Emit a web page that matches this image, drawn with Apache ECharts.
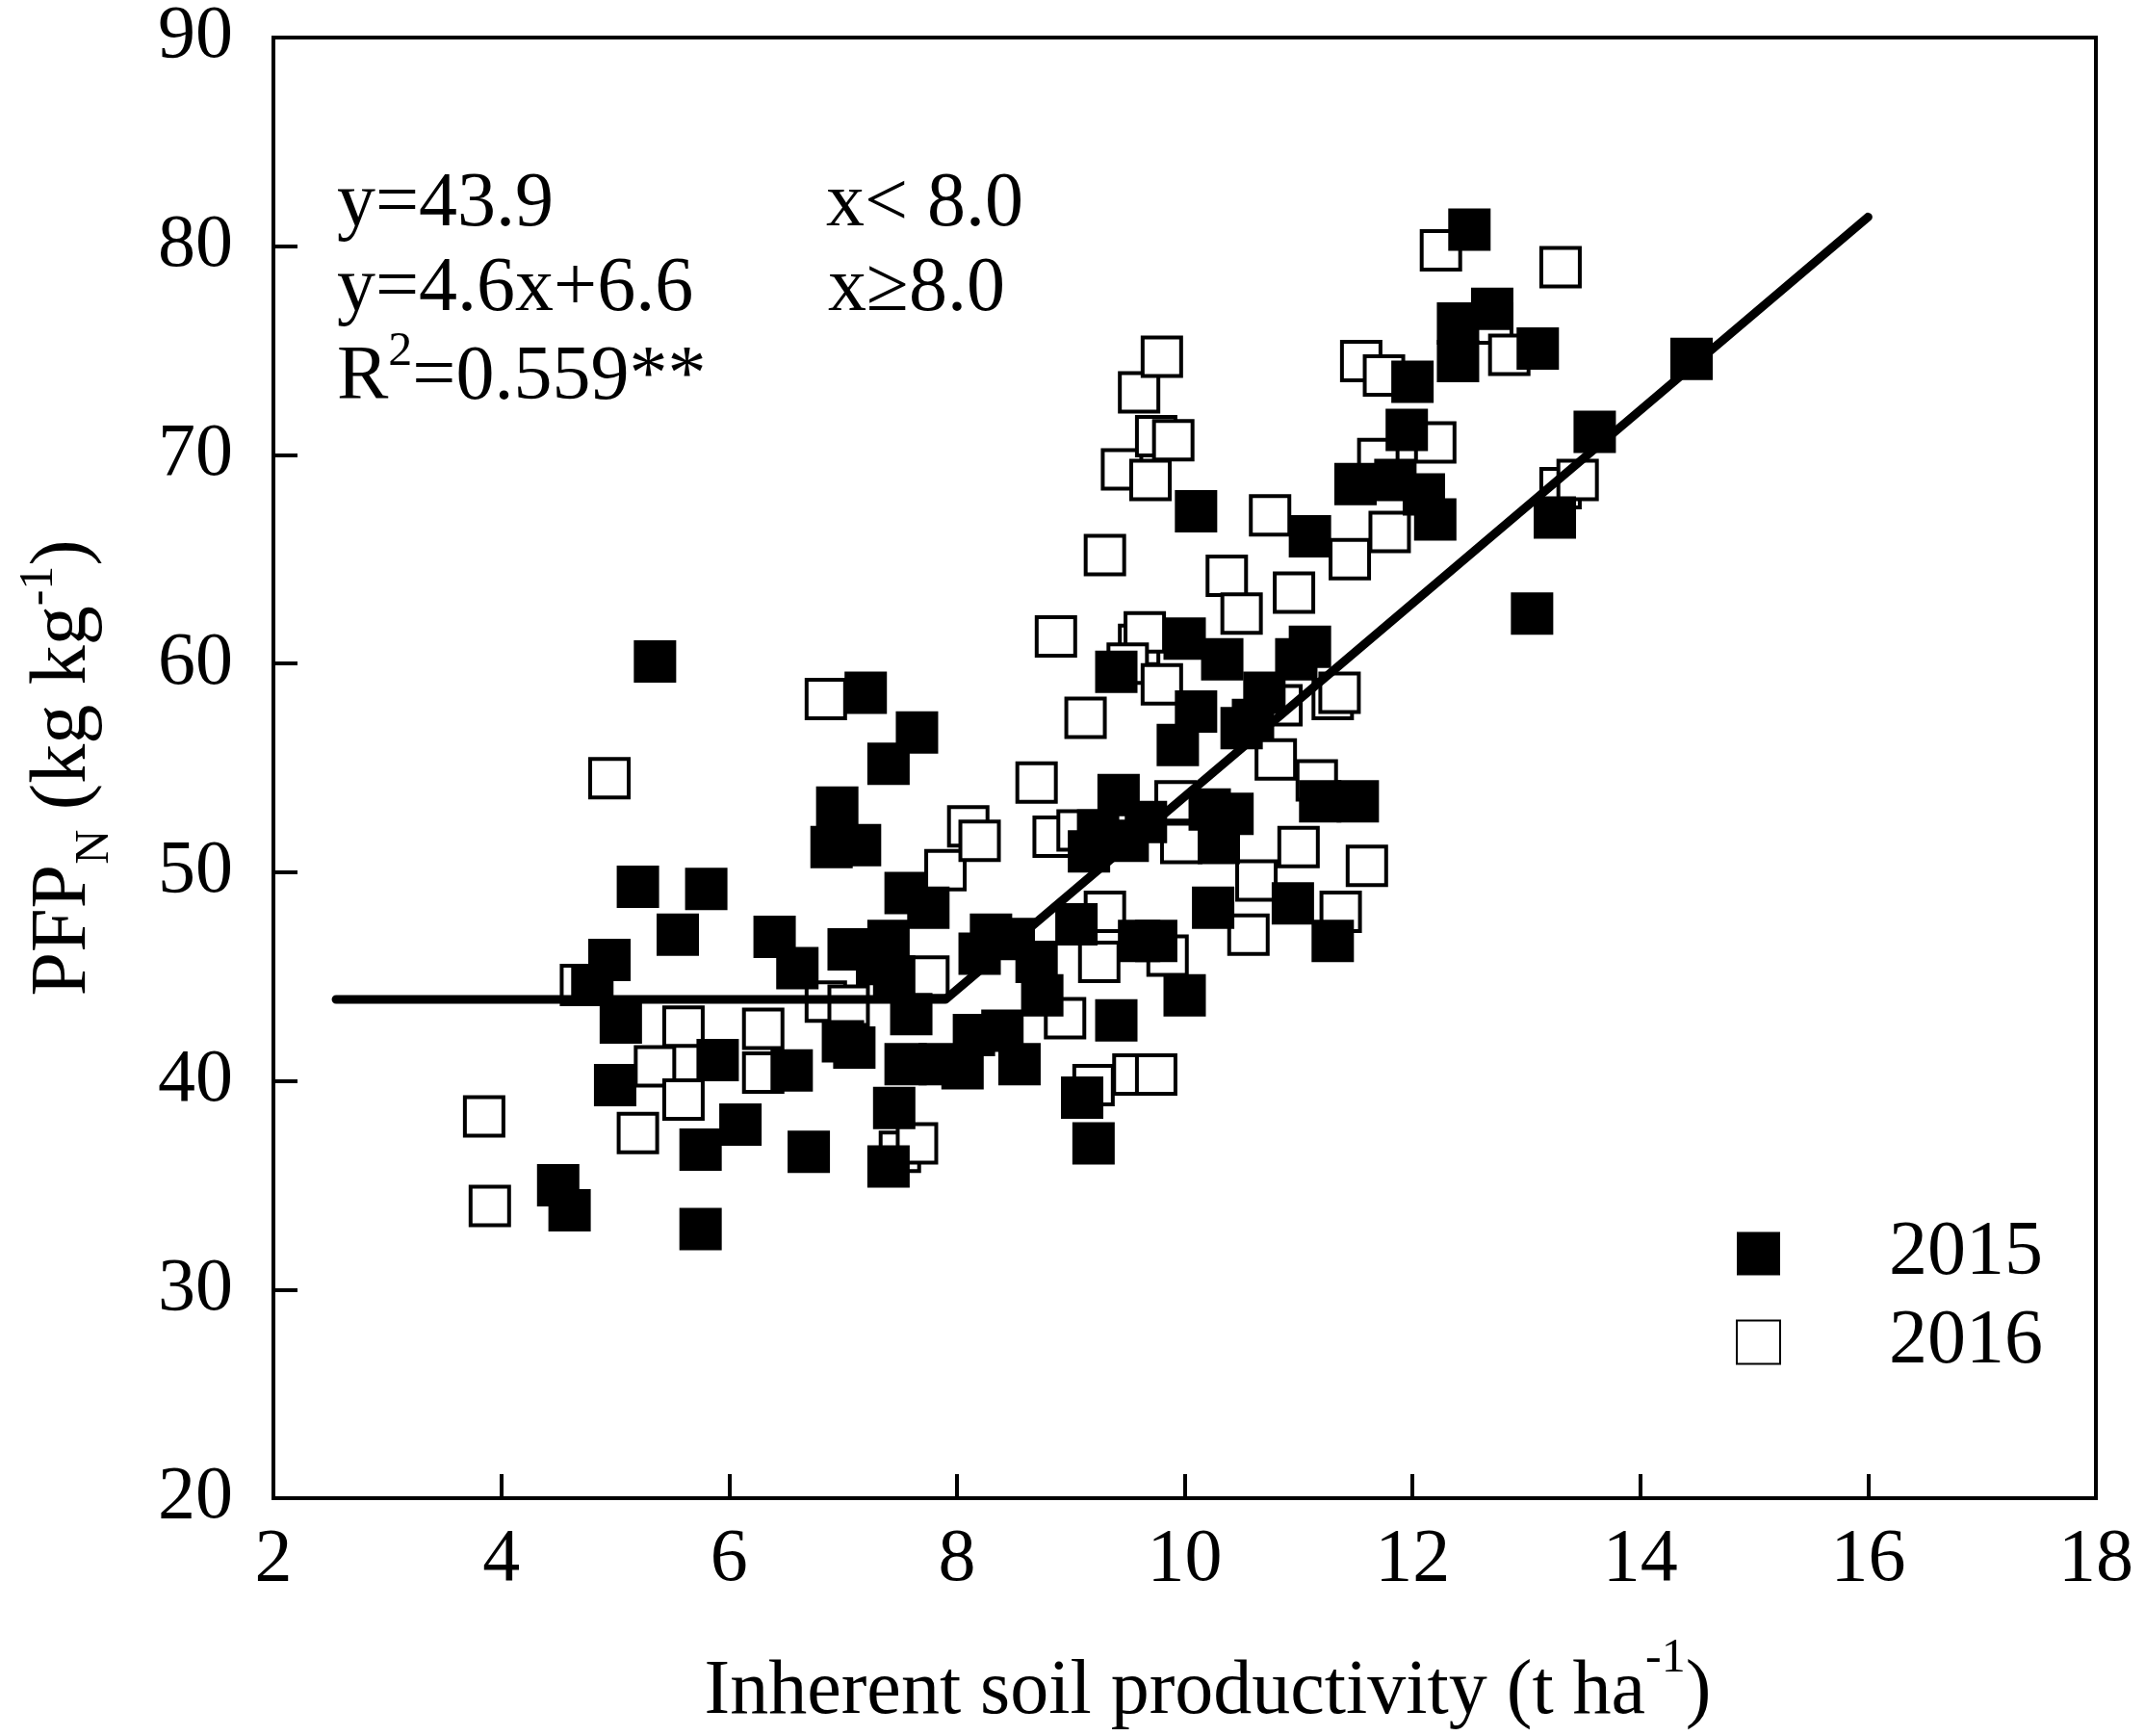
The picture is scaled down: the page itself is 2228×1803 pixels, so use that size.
<!DOCTYPE html>
<html>
<head>
<meta charset="utf-8">
<script src="https://cdn.jsdelivr.net/npm/echarts@6/dist/echarts.min.js"></script>
<style>
  html, body { margin: 0; padding: 0; background: #fff; }
  #chart { width: 2228px; height: 1803px; }
</style>
</head>
<body>
<div id="chart"></div>
<script>
// values
const xTicks = { min: 2, max: 18, step: 2 };
const yTicks = { min: 20, max: 90, step: 10 };

const points2015 = [
    [5.35, 60.1], [5.2, 49.3], [5.55, 47.0], [5.8, 49.2], [4.95, 45.8], [4.8, 44.6],
    [5.05, 42.8], [5.0, 39.8], [4.5, 35.0], [4.6, 33.8], [5.75, 32.9], [5.75, 36.7],
    [5.9, 41.0], [6.1, 37.9], [6.4, 46.9], [6.6, 45.4], [6.55, 40.5], [6.7, 36.6],
    [6.95, 53.1], [6.9, 51.2], [7.15, 51.3], [7.2, 58.6], [7.05, 46.3], [7.0, 41.9],
    [7.1, 41.6], [7.4, 55.2], [7.65, 56.7], [7.55, 49.0], [7.75, 48.3], [7.4, 46.7],
    [7.3, 45.6], [7.45, 45.0], [7.6, 43.2], [7.55, 40.8], [7.45, 38.7], [7.4, 35.9],
    [7.85, 40.8], [8.05, 40.6], [8.15, 42.2], [8.3, 47.0], [8.2, 46.1], [8.5, 46.8],
    [8.4, 42.4], [8.55, 40.8], [8.7, 45.7], [8.75, 44.1], [9.05, 47.5], [9.1, 39.2],
    [9.2, 37.0], [9.16, 51.0], [9.24, 52.0], [9.4, 59.6], [9.42, 53.7], [9.66, 52.4],
    [9.5, 51.5], [9.4, 42.9], [9.6, 46.7], [9.75, 46.7], [9.94, 56.1], [10.0, 61.2],
    [10.0, 44.1], [10.1, 67.3], [10.1, 57.7], [10.25, 48.3], [10.33, 60.2], [10.22, 53.0],
    [10.42, 52.8], [10.3, 51.4], [10.5, 56.9], [10.6, 57.3], [10.7, 58.6], [10.95, 48.5],
    [11.1, 66.1], [11.1, 60.8], [10.98, 60.2], [11.19, 53.4], [11.52, 53.4], [11.3, 46.7],
    [11.5, 68.6], [11.85, 68.8], [12.0, 73.5], [11.95, 71.2], [12.1, 68.1], [12.2, 66.9],
    [12.4, 74.5], [12.4, 76.3], [12.5, 80.8], [12.7, 77.0], [13.1, 75.1], [13.05, 62.4],
    [13.25, 67.0], [13.6, 71.1], [14.45, 74.6]
];

const points2016 = [
    [3.85, 38.3], [3.9, 34.0], [4.7, 44.6], [4.95, 54.5], [5.2, 37.5], [5.35, 40.7],
    [5.6, 39.1], [5.6, 42.6], [6.3, 42.5], [6.3, 40.4], [6.85, 58.3], [6.85, 43.8],
    [7.05, 43.6], [7.5, 36.6], [7.65, 37.0], [7.75, 45.0], [7.9, 50.1], [8.1, 52.2],
    [8.2, 51.5], [8.7, 54.3], [8.87, 61.3], [8.85, 51.7], [8.95, 43.0], [9.06, 52.0],
    [9.13, 57.4], [9.3, 65.2], [9.2, 39.8], [9.3, 48.1], [9.25, 45.7], [9.45, 69.3],
    [9.6, 73.0], [9.8, 74.7], [9.7, 68.8], [9.75, 70.9], [9.9, 70.7], [9.6, 60.9],
    [9.65, 61.5], [9.5, 60.0], [9.8, 59.0], [9.55, 40.3], [9.75, 40.3], [9.85, 46.0],
    [9.92, 53.4], [9.97, 51.4], [10.37, 64.2], [10.5, 62.4], [10.56, 47.0], [10.63, 49.6],
    [10.75, 67.1], [10.8, 55.4], [10.85, 58.0], [10.96, 63.4], [11.0, 51.2], [11.16, 54.4],
    [11.3, 58.3], [11.36, 58.6], [11.45, 65.0], [11.37, 48.1], [11.55, 74.5], [11.7, 69.8],
    [11.8, 66.3], [11.75, 73.8], [11.6, 50.3], [12.2, 70.6], [12.25, 79.8], [12.7, 76.3],
    [12.85, 74.8], [13.3, 79.0], [13.3, 68.4], [13.45, 68.8]
];

// piecewise fit as drawn: flat part, then the sloped part
const fitLine = [[2.55, 43.9], [7.9, 43.9], [16.0, 81.4]];

const seriesNames = ['2015', '2016'];
const fitText = ['y=43.9', 'y=4.6x+6.6', '{a|R}{s|2}{a|=0.559**}'];
const rangeText = ['x< 8.0', 'x\u22658.0'];

const FONT = '"Liberation Serif", "Times New Roman", serif';
const FS = 80;      // texts, names, legend
const TICK_FS = 78; // tick labels

const chart = echarts.init(document.getElementById('chart'));

const axisCommon = {
    axisLine: { show: true, lineStyle: { color: '#000', width: 4 } },
    axisTick: { show: true, inside: true, length: 25, lineStyle: { color: '#000', width: 4 } },
    splitLine: { show: false },
    axisLabel: { color: '#000', fontFamily: FONT, fontSize: TICK_FS, showMinLabel: true, showMaxLabel: true },
    nameTextStyle: { color: '#000', fontFamily: FONT, fontSize: FS },
};

const textLine = (txt, x, top, rich) => ({
    type: 'text',
    left: x,
    top: top,
    style: {
        text: txt,
        fill: '#000',
        font: FS + 'px ' + FONT,
        rich: rich,
    },
});

const supRich = {
    a: { fontFamily: FONT, fontSize: FS, lineHeight: 96, verticalAlign: 'bottom' },
    s: { fontFamily: FONT, fontSize: 50, lineHeight: 96, verticalAlign: 'top', padding: [4, 0, 0, 0] },
};

const option = {
    backgroundColor: '#fff',
    animation: false,
    grid: {
        left: 277, right: 51, top: 36, bottom: 247,
        show: true, borderColor: '#000', borderWidth: 4,
    },
    xAxis: {
        ...axisCommon,
        type: 'value',
        min: xTicks.min, max: xTicks.max, interval: xTicks.step,
        axisLabel: { ...axisCommon.axisLabel, margin: 26 },
        name: '{t|Inherent soil productivity (t ha}{s|-1}{t|)}',
        nameLocation: 'middle',
        nameGap: 142,
        nameTextStyle: {
            ...axisCommon.nameTextStyle,
            padding: [0, 0, 0, 48],
            rich: {
                t: { fontFamily: FONT, fontSize: FS, lineHeight: 100, verticalAlign: 'bottom' },
                s: { fontFamily: FONT, fontSize: 50, lineHeight: 100, verticalAlign: 'top' },
            },
        },
    },
    yAxis: {
        ...axisCommon,
        type: 'value',
        min: yTicks.min, max: yTicks.max, interval: yTicks.step,
        axisLabel: { ...axisCommon.axisLabel, margin: 42 },
        name: '{t|PFP}{n|N}{t| (kg kg}{s|-1}{t|)}',
        nameLocation: 'middle',
        nameGap: 160,
        nameTextStyle: {
            ...axisCommon.nameTextStyle,
            rich: {
                t: { fontFamily: FONT, fontSize: 82, lineHeight: 116, verticalAlign: 'middle' },
                n: { fontFamily: FONT, fontSize: 50, lineHeight: 116, verticalAlign: 'bottom' },
                s: { fontFamily: FONT, fontSize: 50, lineHeight: 116, verticalAlign: 'top', padding: [8, 0, 0, 0] },
            },
        },
    },
    legend: {
        orient: 'vertical',
        left: 1803,
        top: 1262,
        itemWidth: 45,
        itemHeight: 45,
        itemGap: 12,
        padding: 0,
        data: [
            { name: seriesNames[0], icon: 'rect' },
            { name: seriesNames[1], icon: 'rect' },
        ],
        textStyle: { color: '#000', fontFamily: FONT, fontSize: FS, lineHeight: 80, padding: [0, 0, 0, 108] },
    },
    graphic: [
        textLine(fitText[0], 350, 173),
        textLine(fitText[1], 350, 261),
        textLine(fitText[2], 350, 337, supRich),
        textLine(rangeText[0], 858, 173),
        textLine(rangeText[1], 860, 261),
    ],
    series: [
        {
            name: seriesNames[1],
            type: 'scatter',
            symbol: 'rect',
            symbolSize: 40,
            data: points2016,
            z: 2,
            itemStyle: { color: '#fff', borderColor: '#000', borderWidth: 4, opacity: 1 },
        },
        {
            name: seriesNames[0],
            type: 'scatter',
            symbol: 'rect',
            symbolSize: 44,
            data: points2015,
            z: 3,
            itemStyle: { color: '#000', opacity: 1 },
        },
        {
            name: 'fit',
            type: 'line',
            data: fitLine,
            symbol: 'none',
            z: 4,
            lineStyle: { color: '#000', width: 9, cap: 'round', join: 'round' },
        },
    ],
};

chart.setOption(option);
</script>
</body>
</html>
